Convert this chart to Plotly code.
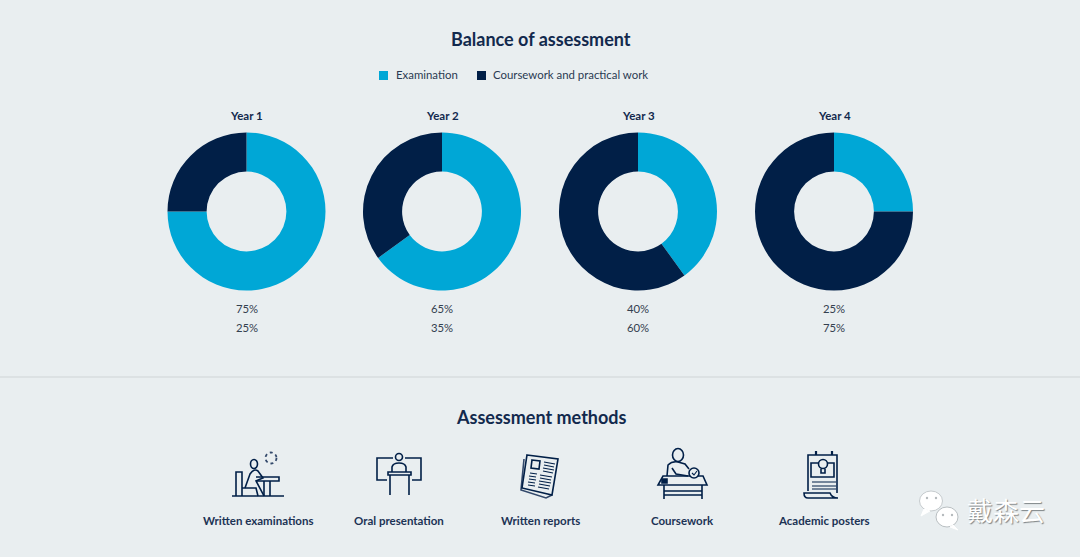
import re
import plotly.graph_objects as go

W, H = 1080, 557
NAVY = '#011f47'
CYAN = '#00a7d6'
BG = '#e9eef0'
TXT = '#12294d'
FONT = 'Lato'

years = ['Year 1', 'Year 2', 'Year 3', 'Year 4']
examination = [75, 65, 40, 25]
coursework = [25, 35, 60, 75]
series_names = ['Examination', 'Coursework and practical work']
methods = ['Written examinations', 'Oral presentation', 'Written reports', 'Coursework', 'Academic posters']

pie_centers = [246.5, 442, 638, 834]
method_x = [257.5, 399, 540.5, 682, 823.5]
method_ticks = [520]


def fx(x):
    return x / W


def fy(y):
    return 1 - y / H


def label(x, y, text, size, color=TXT, bold=False, **kw):
    if bold:
        text = f'<b>{text}</b>'
    return dict(x=fx(x), y=fy(y), xref='paper', yref='paper', text=text, showarrow=False,
                xanchor=kw.pop('xanchor', 'center'), yanchor='middle',
                font=dict(size=size, color=color, family=kw.pop('family', FONT), **kw))


def path(d, color=NAVY, width=1.6, fill='rgba(0,0,0,0)'):
    # path ecrit en pixels, converti en coordonnees paper
    nums = iter(re.findall(r'-?[\d.]+', d))
    out = re.sub(r'-?[\d.]+,-?[\d.]+',
                 lambda m: f'{fx(float(next(nums))):.5f},{fy(float(next(nums))):.5f}', d)
    return dict(type='path', xref='paper', yref='paper', path=out,
                line=dict(color=color, width=width), fillcolor=fill)


def circle(cx, cy, rx, ry=None, color=NAVY, width=1.6, fill='rgba(0,0,0,0)', dash=None):
    ry = ry or rx
    return dict(type='circle', xref='paper', yref='paper',
                x0=fx(cx - rx), x1=fx(cx + rx), y0=fy(cy + ry), y1=fy(cy - ry),
                line=dict(color=color, width=width, dash=dash), fillcolor=fill)


fig = go.Figure()

R = 79
for i, year in enumerate(years):
    c = pie_centers[i]
    fig.add_trace(go.Pie(
        values=[examination[i], coursework[i]],
        labels=series_names,
        hole=0.505,
        sort=False,
        direction='clockwise',
        rotation=0,
        textinfo='none',
        marker=dict(colors=[CYAN, NAVY], line=dict(width=0)),
        domain=dict(x=[fx(c - R), fx(c + R)], y=[fy(290.5), fy(132.5)]),
        showlegend=False,
    ))

annotations = [
    label(541, 39.5, 'Balance of assessment', 18, bold=True),
    label(393.5, 75, series_names[0], 11.4, xanchor='left', color='#2a3a52'),
    label(491, 75, series_names[1], 11.4, xanchor='left', color='#2a3a52'),
    label(541, 417, 'Assessment methods', 18, bold=True),
]
for i, year in enumerate(years):
    c = pie_centers[i]
    annotations.append(label(c, 116, year, 11.5, bold=True))
    annotations.append(label(c, 308.5, f'{examination[i]}%', 11.3, color='#33404f'))
    annotations.append(label(c, 327.5, f'{coursework[i]}%', 11.3, color='#33404f'))
for x, m in zip(method_x, methods):
    annotations.append(label(x, method_ticks[0], m, 11.5, bold=True, color='#1c3355'))

# filigrane
annotations.append(label(965, 509, '戴森云', 26, color='#ffffff', xanchor='left',
                         family='Noto Sans CJK SC', shadow='1px 1px 1px #7f8588'))

shapes = [
    dict(type='line', xref='paper', yref='paper', x0=0, x1=1, y0=fy(377), y1=fy(377),
         line=dict(color='#cfd4d6', width=1.2)),
    dict(type='rect', xref='paper', yref='paper', x0=fx(379), x1=fx(388), y0=fy(80), y1=fy(71),
         fillcolor=CYAN, line=dict(width=0)),
    dict(type='rect', xref='paper', yref='paper', x0=fx(477), x1=fx(486), y0=fy(80), y1=fy(71),
         fillcolor=NAVY, line=dict(width=0)),
]

# icone examen
shapes += [
    path('M232,496 L284,496'),
    path('M236,496 L236,472 L242,472 L242,496'),
    path('M242,488 L256,488 L258,496'),
    circle(254, 464, 3.5, 4.5),
    path('M245,488 L250,474 Q254,468 258,471 L263,478 L256,481 L264,496'),
    path('M256,477 L279,477 L279,481 L256,481'),
    path('M264,481 L264,496 M270,481 L270,496'),
    circle(271, 458, 5.5, color='#33496b', width=1.8, dash='dot'),
]

# icone presentation orale
shapes += [
    path('M393,458 L377,458 L377,480 L387,480'),
    path('M405,458 L421,458 L421,480 L412,480'),
    circle(399, 457, 3.5),
    path('M392,472 L392,467 Q393,463 399,463 Q405,463 406,467 L406,472'),
    path('M388,472 L411,472 L411,475 L388,475 Z'),
    path('M390,475 L390,495 M409,475 L409,495'),
]

# icone rapports
shapes += [
    path('M524,459 L521,490 L546,498 L552,495', color='#33496b'),
    path('M527,455 L558,459 L552,495 L522,488 Z', fill=BG),
    path('M532,460 L540,461 L539,469 L531,468 Z'),
    path('M544,462 L555,464 M544,465 L554,467 M543,468 L554,470 M543,471 L553,473', width=1.1),
    path('M530,473 L537,474 M529,476 L536,477 M529,479 L536,480 M528,482 L535,483 M528,485 L535,486', width=1.1),
    path('M540,475 L552,477 M540,478 L551,480 M539,481 L551,483 M539,484 L550,486 M538,487 L549,489', width=1.1),
]

# icone travaux
shapes += [
    circle(678, 455, 5.5, 6.5),
    path('M667,476 L668,465 Q672,461 678,462 L685,464 L689,469'),
    path('M672,468 L676,474 L688,476'),
    path('M663,476 L703,476 L707,485 L658,485 Z'),
    path('M664,485 L664,499 M702,485 L702,499'),
    path('M664,491 L702,491 M664,495 L702,495'),
    circle(694, 473, 5, fill=BG),
    path('M692,473 L694,475 L697,471', width=1.1),
    path('M662,479 L667,479 L667,483 L662,483 Z', fill=NAVY),
]

# icone posters
shapes += [
    path('M808,491 L808,455 L837,455 L837,493'),
    path('M804,493 L830,493 Q832,498 838,498 L808,498 Q804,498 804,493 Z'),
    path('M816,455 L816,451 M832,455 L832,451', width=2.2),
    path('M811,463 L834,463 L834,477 L811,477 Z'),
    circle(823, 464, 4.5, fill=BG),
    path('M821,469 L821,473 L825,473 L825,469'),
    path('M812,482 L836,482 M812,486 L836,486 M812,489 L836,489', width=1.1),
]

# logo filigrane
shapes += [
    circle(931, 501, 11.5, 10, color='#c6cbce', width=1, fill='#ffffff'),
    path('M924,509 L921,516 L930,511 Z', color='#ffffff', width=1, fill='#ffffff'),
    circle(947, 517, 11, 10, color='#b9bfc2', width=1, fill='#ffffff'),
    path('M953,525 L958,530 L950,527 Z', color='#ffffff', width=1, fill='#ffffff'),
    circle(927, 498, 1.2, color='#c6cbce', width=0, fill='#b5babd'),
    circle(936, 498, 1.2, color='#c6cbce', width=0, fill='#b5babd'),
    circle(943, 515, 1.2, color='#b9bfc2', width=0, fill='#b5babd'),
    circle(952, 515, 1.2, color='#b9bfc2', width=0, fill='#b5babd'),
]

fig.update_layout(
    width=W,
    height=H,
    margin=dict(l=0, r=0, t=0, b=0),
    paper_bgcolor=BG,
    plot_bgcolor=BG,
    annotations=annotations,
    shapes=shapes,
)

# enlever la marge par defaut du body
fig.write_html('out.html', config=dict(displayModeBar=False),
               post_script="document.body.style.margin='0';document.body.style.overflow='hidden';")
